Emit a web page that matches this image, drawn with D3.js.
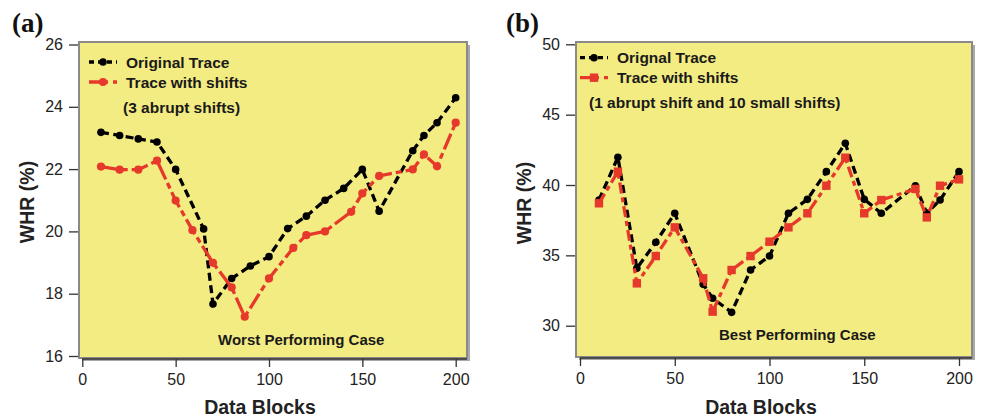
<!DOCTYPE html>
<html>
<head>
<meta charset="utf-8">
<script src="https://cdn.jsdelivr.net/npm/d3@7"></script>
<style>
  html, body { margin: 0; padding: 0; background: #fff; }
  svg { display: block; font-family: "Liberation Sans", Arial, Helvetica, sans-serif; }
</style>
</head>
<body>
<svg id="chart" width="983" height="419"></svg>
<script>
// ---- Panel (a): worst performing case ----
const aOrigX = [10, 20, 30, 40, 50, 65, 70, 80, 90, 100, 110, 120, 130, 140, 150, 159, 177, 183, 190, 200];
const aOrigY = [23.18, 23.08, 22.97, 22.87, 21.99, 20.08, 17.67, 18.49, 18.89, 19.19, 20.09, 20.49, 21.0, 21.38, 21.99, 20.65, 22.59, 23.08, 23.49, 24.29];
const aShiftX = [10, 20, 30, 40, 50, 59, 70, 80, 87, 100, 113, 120, 130, 144, 150, 159, 177, 183, 190, 200];
const aShiftY = [22.08, 21.98, 21.98, 22.27, 20.99, 20.04, 18.99, 18.2, 17.26, 18.49, 19.47, 19.88, 20.0, 20.63, 21.22, 21.78, 21.99, 22.47, 22.09, 23.49];
const aYTicks = [16, 18, 20, 22, 24, 26];

// ---- Panel (b): best performing case ----
const bX = [10, 20, 30, 40, 50, 65, 70, 80, 90, 100, 110, 120, 130, 140, 150, 159, 177, 183, 190, 200];
const bOrigY = [38.93, 41.97, 34.08, 35.93, 37.99, 32.94, 31.95, 30.95, 33.96, 34.95, 37.99, 38.98, 40.95, 42.96, 38.98, 37.99, 39.95, 38.0, 38.93, 40.95];
const bShiftY = [38.7, 40.95, 33.01, 34.95, 36.99, 33.37, 31.0, 33.96, 34.95, 35.97, 36.99, 37.99, 39.95, 41.94, 37.99, 38.93, 39.72, 37.7, 39.95, 40.4];
const bYTicks = [30, 35, 40, 45, 50];

const xTicks = [0, 50, 100, 150, 200];

const YELLOW = "#f3ec82";
const RED = "#e6392b";
const BLACK = "#000";

const svg = d3.select("#chart");

function zip(xs, ys) { return xs.map((x, i) => ({ x: x, y: ys[i] })); }

function panel(cfg) {
  const g = svg.append("g");
  const x = d3.scaleLinear().domain([0, 200]).range(cfg.xRange);
  const y = d3.scaleLinear().domain(cfg.yDomain).range(cfg.yRange);
  const box = cfg.box; // [left, top, right, bottom]

  // drop shadow and plotting frame
  g.append("rect")
    .attr("x", box[0] + 3).attr("y", box[1] + 3)
    .attr("width", box[2] - box[0]).attr("height", box[3] - box[1])
    .attr("fill", "#a8a8a8");
  g.append("rect")
    .attr("x", box[0]).attr("y", box[1])
    .attr("width", box[2] - box[0]).attr("height", box[3] - box[1])
    .attr("fill", YELLOW).attr("stroke", "#8a8a8a").attr("stroke-width", 2);

  // y axis
  const ya = g.append("g").attr("transform", `translate(${box[0] - 1},0)`)
    .call(d3.axisLeft(y).tickValues(cfg.yTicks).tickSize(9).tickPadding(6).tickSizeOuter(0));
  ya.select(".domain").remove();
  ya.selectAll(".tick line").attr("stroke", "#333").attr("stroke-width", 1.3);
  ya.selectAll(".tick text").attr("font-size", 16).attr("fill", "#222")
    .attr("font-family", "'Liberation Sans', Arial, sans-serif");

  // x axis
  const xa = g.append("g").attr("transform", `translate(0,${box[3] + 1})`)
    .call(d3.axisBottom(x).tickValues(xTicks).tickSize(8).tickPadding(7).tickSizeOuter(0));
  xa.select(".domain").remove();
  xa.append("line").attr("x1", x(0)).attr("x2", box[2]).attr("y1", 0).attr("y2", 0)
    .attr("stroke", "#333").attr("stroke-width", 1.6);
  xa.selectAll(".tick line").attr("stroke", "#333").attr("stroke-width", 1.3);
  xa.selectAll(".tick text").attr("font-size", 16).attr("fill", "#222")
    .attr("font-family", "'Liberation Sans', Arial, sans-serif");

  // axis titles
  g.append("text").attr("x", cfg.xTitle[0]).attr("y", cfg.xTitle[1])
    .attr("text-anchor", "middle").attr("font-weight", "bold").attr("font-size", 19.5)
    .attr("fill", "#222").text("Data Blocks");
  g.append("text")
    .attr("transform", `translate(${cfg.yTitle[0]},${cfg.yTitle[1]}) rotate(-90)`)
    .attr("text-anchor", "middle").attr("dominant-baseline", "central")
    .attr("font-weight", "bold").attr("font-size", 19.5).attr("fill", "#222").text("WHR (%)");

  // panel tag
  g.append("text").attr("x", cfg.tag[0]).attr("y", cfg.tag[1])
    .attr("font-family", "'Liberation Serif', 'Times New Roman', serif")
    .attr("font-weight", "bold").attr("font-size", 27).attr("fill", "#111").text(cfg.tagText);

  // series
  const line = d3.line().x(d => x(d.x)).y(d => y(d.y));
  const orig = zip(cfg.origX, cfg.origY);
  const shift = zip(cfg.shiftX, cfg.shiftY);

  g.append("path").datum(orig).attr("d", line).attr("fill", "none")
    .attr("stroke", BLACK).attr("stroke-width", 3.3).attr("stroke-dasharray", "8,4.5");
  g.selectAll(null).data(orig).enter().append("circle")
    .attr("cx", d => x(d.x)).attr("cy", d => y(d.y)).attr("r", 3.8).attr("fill", BLACK);

  g.append("path").datum(shift).attr("d", line).attr("fill", "none")
    .attr("stroke", RED).attr("stroke-width", 3.3).attr("stroke-dasharray", cfg.redDash);
  if (cfg.square) {
    g.selectAll(null).data(shift).enter().append("rect")
      .attr("x", d => x(d.x) - 4.2).attr("y", d => y(d.y) - 4.2)
      .attr("width", 8.4).attr("height", 8.4).attr("fill", RED);
  } else {
    g.selectAll(null).data(shift).enter().append("circle")
      .attr("cx", d => x(d.x)).attr("cy", d => y(d.y)).attr("r", 4.1).attr("fill", RED);
  }

  // legend
  const L = cfg.legend;
  const lg = g.append("g");
  lg.append("line").attr("x1", L.x0).attr("x2", L.x1).attr("y1", L.y[0]).attr("y2", L.y[0])
    .attr("stroke", BLACK).attr("stroke-width", 3.3).attr("stroke-dasharray", "5,4,5,4");
  lg.append("circle").attr("cx", L.mx).attr("cy", L.y[0]).attr("r", 3.8).attr("fill", BLACK);
  lg.append("line").attr("x1", L.x0).attr("x2", L.x1).attr("y1", L.y[1]).attr("y2", L.y[1])
    .attr("stroke", RED).attr("stroke-width", 3.3).attr("stroke-dasharray", "19,5,5,5");
  if (cfg.square) {
    lg.append("rect").attr("x", L.mx - 4.2).attr("y", L.y[1] - 4.2).attr("width", 8.4).attr("height", 8.4).attr("fill", RED);
  } else {
    lg.append("circle").attr("cx", L.mx).attr("cy", L.y[1]).attr("r", 4.1).attr("fill", RED);
  }
  const labels = [cfg.origName, "Trace with shifts"];
  labels.forEach((t, i) => {
    lg.append("text").attr("x", L.tx).attr("y", L.y[i]).attr("dominant-baseline", "central")
      .attr("font-weight", "bold").attr("font-size", 15.5).attr("fill", "#1a1a1a").text(t);
  });
  lg.append("text").attr("x", L.nx).attr("y", L.y[2]).attr("dominant-baseline", "central")
    .attr("font-weight", "bold").attr("font-size", 15.5).attr("fill", "#1a1a1a").text(cfg.note);

  g.append("text").attr("x", cfg.caseAt[0]).attr("y", cfg.caseAt[1]).attr("dominant-baseline", "central")
    .attr("font-weight", "bold").attr("font-size", 15).attr("fill", "#1a1a1a").text(cfg.caseText);
}

panel({
  xRange: [82.3, 455.7], yDomain: [16, 26], yRange: [356, 44.5],
  box: [79, 42, 467, 358], yTicks: aYTicks,
  xTitle: [260, 414], yTitle: [27, 202], tag: [12, 32], tagText: "(a)",
  origX: aOrigX, origY: aOrigY, shiftX: aShiftX, shiftY: aShiftY,
  redDash: "17,4,6,4", square: false,
  legend: { x0: 89, x1: 117, mx: 103, y: [62, 82, 107], tx: 126, nx: 123 },
  origName: "Original Trace", note: "(3 abrupt shifts)",
  caseAt: [218, 339], caseText: "Worst Performing Case"
});

panel({
  xRange: [580, 959], yDomain: [30, 50], yRange: [325.7, 44.3],
  box: [576, 42, 972, 357], yTicks: bYTicks,
  xTitle: [761, 414], yTitle: [524, 203], tag: [506, 32], tagText: "(b)",
  origX: bX, origY: bOrigY, shiftX: bX, shiftY: bShiftY,
  redDash: "11,4,5,4", square: true,
  legend: { x0: 580, x1: 608, mx: 594, y: [57.7, 77.7, 102.7], tx: 617, nx: 589 },
  origName: "Orignal Trace", note: "(1 abrupt shift and 10 small shifts)",
  caseAt: [719, 334.3], caseText: "Best Performing Case"
});
</script>
</body>
</html>
